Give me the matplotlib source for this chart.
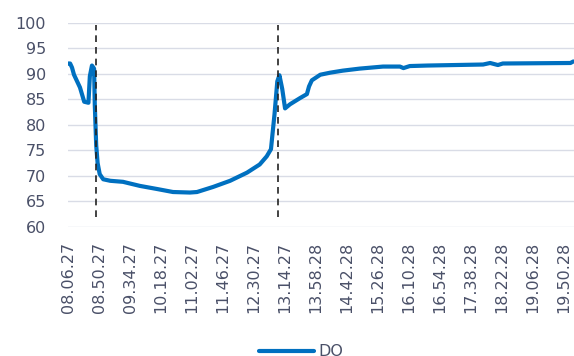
import matplotlib
matplotlib.use("Agg")
import matplotlib.pyplot as plt

# minutes after 08.06.27 and dissolved oxygen readings
minutes = [0, 3, 5.7, 8.5, 17, 23, 29, 31, 34, 37, 38, 40, 42, 45, 50, 60, 78,
           102, 126, 149, 173, 183, 206, 230, 254, 272, 282, 288, 293, 297, 300,
           304, 308, 315, 329, 339, 342, 346, 358, 372, 390, 414, 447, 471, 476,
           485, 510, 589, 599, 610, 617, 713, 717]
do_values = [92.0, 92.0, 91.2, 89.8, 87.3, 84.5, 84.3, 89.5, 91.6, 91.0, 84.0,
             76.0, 72.5, 70.3, 69.3, 69.0, 68.8, 68.0, 67.4, 66.8, 66.7, 66.8,
             67.8, 69.0, 70.6, 72.2, 73.8, 75.2, 82.0, 88.5, 89.7, 87.0, 83.2,
             84.0, 85.2, 86.0, 87.5, 88.7, 89.8, 90.2, 90.6, 91.0, 91.4, 91.4,
             91.1, 91.5, 91.6, 91.8, 92.1, 91.7, 92.0, 92.1, 92.4]

tick_minutes = [0, 44, 88, 132, 176, 220, 264, 308, 352, 396, 440, 484, 528,
                572, 616, 660, 704]
tick_labels = ["08.06.27", "08.50.27", "09.34.27", "10.18.27", "11.02.27",
               "11.46.27", "12.30.27", "13.14.27", "13.58.28", "14.42.28",
               "15.26.28", "16.10.28", "16.54.28", "17.38.28", "18.22.28",
               "19.06.28", "19.50.28"]

event_minutes = [39.3, 298.5]

text_color = "#4a5068"
line_color = "#0070C0"

fig = plt.figure(figsize=(5.74, 3.56), dpi=100)
ax = fig.add_axes([68 / 574, 1 - 226.7 / 356, 1 - 68 / 574, (226.7 - 22.7) / 356])

ax.plot(minutes, do_values, color=line_color, lw=3, solid_capstyle="round",
        solid_joinstyle="round", label="DO", zorder=3)

for m in event_minutes:
    ax.plot([m, m], [62, 99.5], color="#222222", lw=1.2,
            linestyle=(0, (4, 3)), zorder=4)

ax.set_xlim(0, 718)
ax.set_ylim(60, 100)
ax.set_yticks(range(60, 101, 5))
ax.set_xticks(tick_minutes)
ax.set_xticklabels(tick_labels, rotation=90)
ax.grid(True, axis="y", color="#d9dce6", lw=1)
ax.set_axisbelow(True)
for s in ax.spines.values():
    s.set_visible(False)
ax.tick_params(axis="y", length=0, pad=16, labelsize=11.5, labelcolor=text_color)
ax.tick_params(axis="x", length=0, pad=11, labelsize=11.5, labelcolor=text_color)

fig.legend(loc="center", bbox_to_anchor=(0.525, 0.012), frameon=False,
           fontsize=11.5, handlelength=3.4, handletextpad=0.3,
           labelcolor=text_color)

fig.savefig("out.png", dpi=100)
